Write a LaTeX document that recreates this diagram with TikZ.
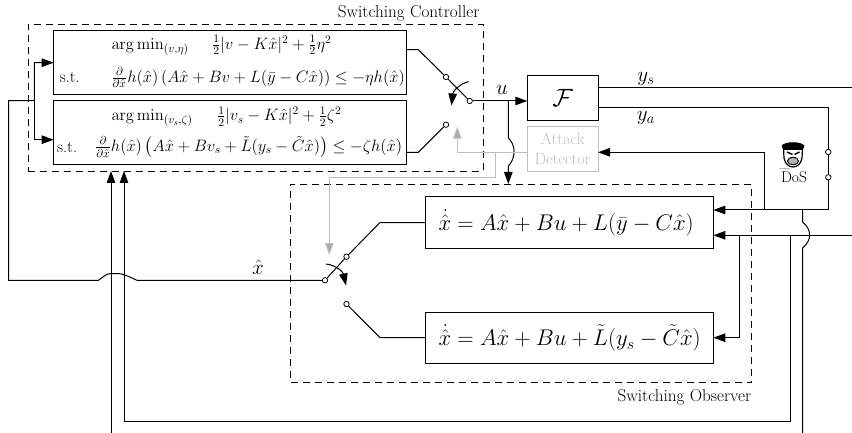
\documentclass[tikz,border=0pt]{standalone}
\usepackage{fix-cm}
\usepackage{amsmath}
\usepackage{tikz}
\usetikzlibrary{calc, positioning, arrows.meta}
\definecolor{detect}{RGB}{190,190,190}
\definecolor{detecttip}{RGB}{170,170,170}
\tikzset{
  sigtip/.style={-{Triangle[length=12pt,width=8.5pt]}},
  greytip/.style={-{Triangle[length=12pt,width=8.5pt,fill=detecttip]}},
  block/.style={draw,line width=1pt,inner sep=0pt,outer sep=0pt,anchor=north west},
  swpt/.style={circle,draw,fill=white,line width=0.8pt,inner sep=0pt,minimum size=5.4pt},
  groupbox/.style={draw,dashed,dash pattern=on 7pt off 5pt,line width=0.8pt,inner sep=0pt,outer sep=0pt,anchor=north west},
  qptext/.style={font=\fontsize{16.5}{19}\selectfont,inner sep=0pt},
  eqtext/.style={font=\fontsize{22.7}{26}\selectfont,inner sep=0pt},
  sigtext/.style={font=\fontsize{21}{25}\selectfont,inner sep=0pt},
  captext/.style={font=\fontsize{16.3}{19}\selectfont,inner sep=0pt},
  grouptext/.style={font=\fontsize{17.2}{20}\selectfont,inner sep=0pt}
}
\begin{document}
\begin{tikzpicture}[x=1pt,y=-1pt,line width=1pt]
  \useasboundingbox (0,0) rectangle (852,433);

  % ---------- dashed groups ----------
  \node[groupbox,minimum width=455pt,minimum height=147pt] (ctrl) at (28,24) {};
  \node[groupbox,minimum width=461pt,minimum height=198.7pt] (obs) at (290.7,184) {};
  \node[grouptext,anchor=east] (ctrllabel) at (480,13) {Switching Controller};
  \node[grouptext,anchor=east] (obslabel) at (751.7,397) {Switching Observer};

  % ---------- QP blocks ----------
  \node[block,minimum width=352.3pt,minimum height=64pt] (qpa) at (53.7,30.7) {};
  \node[block,minimum width=352.3pt,minimum height=64pt] (qpb) at (53.7,101) {};
  \node[qptext,anchor=west] (qpamin) at (111,47) {$\arg\min_{(v,\eta)}$};
  \node[qptext,anchor=west] (qpacost) at (211.7,45) {$\frac{1}{2}|v-K\hat{x}|^2+\frac{1}{2}\eta^2$};
  \node[qptext,anchor=west] (qpast) at (59.3,77.7) {s.t.};
  \node[qptext,anchor=west] (qpacon) at (111,77.7) {$\frac{\partial}{\partial\hat{x}}h(\hat{x})\left(A\hat{x}+Bv+L(\bar{y}-C\hat{x})\right)\leq-\eta h(\hat{x})$};
  \node[qptext,anchor=west] (qpbmin) at (111,118) {$\arg\min_{(v_s,\zeta)}$};
  \node[qptext,anchor=west] (qpbcost) at (216.7,116.7) {$\frac{1}{2}|v_s-K\hat{x}|^2+\frac{1}{2}\zeta^2$};
  \node[qptext,anchor=west] (qpbst) at (56.7,147) {s.t.};
  \node[qptext,anchor=west] (qpbcon) at (94.7,147) {$\frac{\partial}{\partial\hat{x}}h(\hat{x})\left(A\hat{x}+Bv_s+\tilde{L}(y_s-\tilde{C}\hat{x})\right)\leq-\zeta h(\hat{x})$};

  % ---------- plant, detector, observers ----------
  \node[block,minimum width=70.7pt,minimum height=45pt] (plant) at (527.3,75.3) {};
  \node[font=\fontsize{25}{28}\selectfont,inner sep=0pt] (plantlabel) at (plant.center) {$\mathcal{F}$};
  \node[block,detect,minimum width=70.7pt,minimum height=44.6pt] (detector) at (527.3,126.7) {};
  \node[captext,detect,align=center,inner sep=0pt] (detectorlabel) at (detector.center) {Attack\\[1pt]Detector};
  \node[block,minimum width=288.3pt,minimum height=51.6pt] (obsa) at (425,196.7) {};
  \node[block,minimum width=288.3pt,minimum height=51.4pt] (obsb) at (425,312.3) {};
  \node[eqtext,right=13pt of obsa.west] (obsaeq) {$\dot{\hat{x}}=A\hat{x}+Bu+L(\bar{y}-C\hat{x})$};
  \node[eqtext,right=13pt of obsb.west] (obsbeq) {$\dot{\hat{x}}=A\hat{x}+Bu+\tilde{L}(y_s-\tilde{C}\hat{x})$};

  % ---------- signal labels ----------
  \node[sigtext] (ulabel) at (502,90) {$u$};
  \node[sigtext] (yslabel) at (646,79) {$y_s$};
  \node[sigtext] (yalabel) at (646,118) {$y_a$};
  \node[sigtext] (xhatlabel) at (258,267) {$\hat{x}$};

  % ---------- switch contacts ----------
  \node[swpt] (csa) at (446,77) {};
  \node[swpt] (csb) at (446,124.7) {};
  \node[swpt] (cso) at (469.7,101) {};
  \node[swpt] (osa) at (346.5,256.7) {};
  \node[swpt] (osb) at (346.5,304) {};
  \node[swpt] (oso) at (325,280.3) {};
  \node[swpt] (dosa) at (828.3,152) {};
  \node[swpt] (dosb) at (828.3,177.3) {};

  % ---------- junctions and free ends ----------
  \coordinate (qpaout) at (406,49.7);
  \coordinate (qpbout) at (406,152.3);
  \coordinate (obsaout) at (425,222.5);
  \coordinate (obsbout) at (425,337.7);
  \coordinate (ufork) at (508.3,101);
  \coordinate (xfork) at (34.3,100.7);
  \coordinate (ysend) at (852,88);
  \coordinate (yinend) at (852,235.3);
  \coordinate (yacorner) at (828.3,107.3);
  \coordinate (obsain) at (713.3,210);
  \coordinate (obsainy) at (713.3,235.3);
  \coordinate (obsbin) at (713.3,337.7);
  \coordinate (yafork) at (764.3,210);
  \coordinate (yinfork) at (739,235.3);
  \coordinate (yinback) at (790,235.3);
  \coordinate (yaback) at (802.7,210);
  \coordinate (gfork) at (495.7,152.3);
  \coordinate (detin) at (598,152.3);
  \coordinate (detout) at (527.3,152.3);
  \coordinate (basea) at (111,433);
  \coordinate (baseb) at (802.7,433);

  % ---------- switches ----------
  \draw (qpaout) -- (418.3,49.7) -- (csa);
  \draw (qpbout) -- (418.3,152.3) -- (csb);
  \draw (csa) -- (cso);
  \draw[sigtip] (468.7,81.7) .. controls (460,83.5) and (453,91) .. (451.5,105.5);
  \draw (obsaout) -- (380,222.5) -- (osa);
  \draw (obsbout) -- (380,337.7) -- (osb);
  \draw (oso) -- (osa);
  \draw[sigtip] (326,264) .. controls (336,265) and (343,272) .. (346,285.5);

  % ---------- u and plant outputs ----------
  \draw[sigtip] (cso) -- (plant.west |- cso);
  \draw[sigtip] (ufork) -- (508.3,138) .. controls (516,145) and (516,158) .. (508.3,166) -- (508.3,184);
  \draw (plant.east |- ysend) -- (ysend);
  \draw (plant.east |- yacorner) -- (yacorner) -- (dosa);
  \draw (dosa) -- (dosb);
  \draw[sigtip] (dosb) -- (828.3,210) -- (obsain);
  \draw[sigtip] (yafork) -- (yafork |- detin) -- (detin);

  % ---------- measured output, second branch ----------
  \draw[sigtip] (yinend) -- (obsainy);
  \draw[sigtip] (yinfork) -- (yinfork |- obsbin) -- (obsbin);

  % ---------- detector decision (grey) ----------
  \draw[detect,greytip] (detout) -- (457.3,152.3) -- (457.3,126.7);
  \draw[detect,greytip] (gfork) -- (495.7,177.7) -- (329.3,177.7) -- (329.3,255);

  % ---------- state estimate feedback ----------
  \draw[sigtip] (oso) -- (137,280.3) .. controls (128,276) and (122,273.5) .. (117.5,273.5)
     -- (111,273.5) .. controls (106,273.5) and (102,278) .. (98.5,280.3) -- (8.5,280.3) -- (8.5,100.7) -- (xfork) -- (xfork |- qpa.west) -- (qpa.west);
  \draw[sigtip] (xfork) -- (34.3,139.7) -- (53.7,139.7);

  % ---------- outputs back to the controller ----------
  \draw[sigtip] (basea) -- (111,171);
  \draw[sigtip] (yinback) -- (790,421) -- (124,421) -- (124,171);
  \draw (yaback) -- (802.7,222) .. controls (812,230) and (812,240) .. (802.7,248) -- (baseb);

  % ---------- DoS ----------
  \node[font=\fontsize{15.5}{18}\selectfont,inner sep=0pt] (doslabel) at (794,177.7) {DoS};
  \draw[detect] (779,169) -- (790,169);
  \draw[line width=1.2pt] (783.5,148) -- (784,158) .. controls (785,164) and (789,167) .. (793,167)
     .. controls (797,167) and (801,164) .. (802,158) -- (802.5,148);
  \fill (781.5,146) .. controls (784,141) and (802,141) .. (804.5,146) -- (802.5,150) -- (783.5,150) -- cycle;
  \draw[line width=1.4pt] (787,152) -- (792.5,154.5) (799.5,152) -- (794.5,154.5);
  \draw[line width=1pt,fill=black!30] (793,161) ellipse (5.5 and 3.8);
\end{tikzpicture}
\end{document}
